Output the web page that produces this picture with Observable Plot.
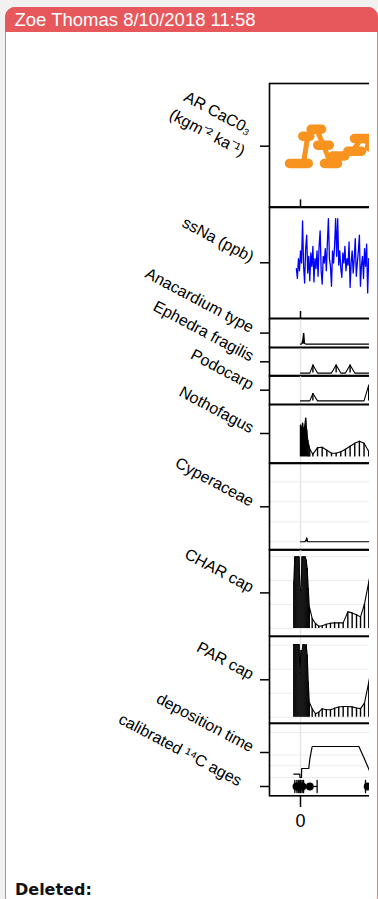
<!DOCTYPE html>
<html>
<head>
<meta charset="utf-8">
<script src="https://cdn.jsdelivr.net/npm/d3@7"></script>
<script src="https://cdn.jsdelivr.net/npm/@observablehq/plot@0.6"></script>
<style>
html,body{margin:0;padding:0;}
body{width:378px;height:899px;overflow:hidden;position:relative;background:#f1f1f1;font-family:"Liberation Sans",Arial,Helvetica,sans-serif;}
#box{position:absolute;left:5px;top:7px;width:373px;height:900px;box-sizing:border-box;background:#fff;border:1.5px solid #e77b7c;border-radius:10px;}
#hdr{position:absolute;left:5px;top:7px;width:373px;height:25px;background:#e6585b;border-radius:10px 10px 0 0;}
#hdrtext{position:absolute;left:14.5px;top:9px;color:#fff;font-size:18.5px;line-height:normal;white-space:nowrap;}
#chart{position:absolute;left:0;top:0;width:369px;height:845px;overflow:hidden;}
#del{position:absolute;left:15px;top:880px;font:bold 16px "DejaVu Sans",sans-serif;color:#111;white-space:nowrap;}
</style>
</head>
<body>
<div id="box"></div>
<div id="hdr"></div>
<div id="hdrtext">Zoe Thomas 8/10/2018 11:58</div>
<div id="chart"></div>
<div id="del">Deleted:</div>
<script>
// ---------- data ----------
// AR CaC03 (age, value, age-uncertainty)
const arAge    = [0.29, 0.7, 1.55, 2.23, 2.9, 3.68, 5.03, 5.9, 7.26];
const arValue  = [3.52, 5.73, 6.30, 5.0, 3.52, 4.13, 4.51, 5.54, 4.86];
const arAgeMin = [-1.06, 0.22, 1.04, 1.67, 2.32, 3.13, 4.58, 5.23, 6.68];
const arAgeMax = [0.75, 0.9, 2.03, 2.78, 3.58, 4.29, 5.9, 6.58, 8.2];

// ssNa (ppb)
const ssNaAge = [-0.4,-0.3,-0.2,-0.1,0,0.1,0.2,0.3,0.4,0.5,0.6,0.7,0.8,0.9,1,1.1,1.2,1.3,1.4,1.5,
  1.6,1.7,1.8,1.9,2,2.1,2.2,2.3,2.4,2.5,2.6,2.7,2.8,2.9,3,3.1,3.2,3.3,3.4,3.5,
  3.6,3.7,3.8,3.9,4,4.1,4.2,4.3,4.4,4.5,4.6,4.7,4.8,4.9,5,5.1,5.2,5.3,5.4,5.5,
  5.6,5.7,5.8,5.9,6,6.1,6.2,6.3,6.4,6.5,6.6,6.7,6.8,6.9,7];
const ssNaValue = [45,36,54,43,61,50,88,47,32,63,
  75,41,56,34,59,47,65,33,54,45,
  61,38,65,79,43,31,56,50,63,43,
  68,90,54,47,29,61,50,66,90,56,
  90,48,61,45,37,59,50,65,43,54,
  48,69,28,50,61,41,54,72,38,50,
  61,75,29,48,56,36,63,47,67,23,
  54,43,50,34,56];

// pollen
const pollenAge = [0,0.1,0.2,0.3,0.4,0.5,0.6,0.7,0.8,0.9,1.2,1.65,2.1,2.55,3.0,3.45,3.9,4.35,4.8,5.25,5.7,6.15,6.6,7.05];
const anacardium = [0,0,3,10.6,0.5,0,0,0,0,0,0,0,0,0,0,0,0,0,0,0,0,0,0,0];
const ephedra    = [0,0,0,0,0,0,0,0,0,0,8,0,0,0,0,8,0,0,8,0,0,0,0,0];
const podocarp   = [0,0,0,0,0,0,0,0,0,0,7.4,0,0,0,0,0,0,0,0,0,0,0,15.7,15];
const nothofagus = [31.7,26.7,33.7,24.7,30.7,38.7,26.7,16.7,11.7,7.7,2.7,9.2,9.7,6.7,3.7,3.7,5.2,7.7,10.7,13.7,15.7,13.7,5.7,3];
const cyperaceae = [0,0,0,0,0,0.8,3.7,0,0,0,0,0,0,0,0,0,0,0,0,0,0,0,0,0];

// charcoal
const charAge = [-0.65,-0.55,-0.45,-0.35,-0.25,-0.15,-0.05,0.05,0.15,0.25,0.35,0.45,0.55,0.65,0.75,0.85,
  1.13,1.45,1.77,2.1,2.5,2.9,3.3,3.7,4.13,4.58,5.0,5.42,5.81,6.19,6.61,7.0];
const charCap = [46.6,71.6,71.6,71.6,71.6,71.6,38.3,38.3,71.6,71.6,71.6,71.6,68.3,60,40,22,
  10,5,2.3,2.8,4.3,5.3,5.6,5.6,5.6,16.6,15.6,13.8,11.6,24.3,46.6,70];
const parCap = [72.7,72.7,72.7,72.7,72.7,72.7,45,66.7,66.7,72.7,72.7,70,72.7,62,35,15,
  8.4,3.4,5,8.5,7.5,7.5,9,10.2,10.7,10.7,10.3,9.2,8.6,14,35,60];

// deposition time and calibrated ages
const depAge  = [-0.65,-0.07,-0.05,0.1,0.11,0.8,0.9,1.13,5.65,6.13,6.61,7.0];
const depTime = [21.7,21.7,18.3,18.3,27.3,27.3,36.7,49.3,49.3,38.3,26.7,16];
const calAge    = [-0.39,-0.2,0,0.19,0.9,6.5];
const calAgeMin = [-0.55,-0.35,-0.15,0.02,0.26,6.29];
const calAgeMax = [-0.22,-0.05,0.15,0.3,1.61,7.5];

// labels & ticks
const panelLabels = ["AR CaC0\u2083\n(kgm\u207B\u00B2 ka\u207B\u00B9)", "ssNa (ppb)", "Anacardium type", "Ephedra fragilis",
  "Podocarp", "Nothofagus", "Cyperaceae", "CHAR cap", "PAR cap", "deposition time", "calibrated \u00B9\u2074C ages"];
const xTicks = [0];

// ---------- drawing ----------
const FONT = '"Liberation Sans", Arial, Helvetica, sans-serif';
const ORANGE = "#f7931e";
const rows = (xs, ys) => xs.map((x, i) => ({x, y: ys[i]}));

function label(text, yv, opts = {}) {
  return Plot.text([text], {
    y: () => yv, text: d => d, frameAnchor: "left",
    rotate: 28, textAnchor: "end", lineAnchor: "middle",
    fontSize: 16, fill: "black", dx: -17, dy: -4.5, ...opts
  });
}

function panel(cfg) {
  const mb = cfg.xAxis ? 45 : 0;
  const marks = [];
  if (cfg.grid) marks.push(Plot.ruleY(cfg.grid, {stroke: "#ebebeb", strokeWidth: 1}));
  if (cfg.zero) marks.push(Plot.ruleX([0], {stroke: "#e4e4e4", strokeWidth: 1.5}));
  marks.push(...cfg.marks);
  if (cfg.baseTick) marks.push(Plot.tickX([0], {x: d => d, insetTop: cfg.height - 7, stroke: "black", strokeWidth: 1.5}));
  marks.push(Plot.frame({stroke: "black", strokeWidth: 1.6}));
  marks.push(Plot.axisY({ticks: cfg.ticks, tickSize: 9, tickFormat: () => "", strokeWidth: 1.5, label: null}));
  marks.push(...cfg.labels);
  if (cfg.xAxis) marks.push(Plot.axisX({ticks: xTicks, tickSize: 11.7, tickPadding: 7, fontSize: 18, strokeWidth: 1.5, tickFormat: d => String(d), label: null}));
  const svg = Plot.plot({
    width: 600, height: cfg.height + mb,
    marginLeft: 269, marginRight: 21, marginTop: 0, marginBottom: mb,
    x: cfg.xAxis ? {domain: [-3, 27], label: null} : {domain: [-3, 27], label: null, axis: null},
    y: {domain: cfg.yDomain, label: null},
    marks
  });
  svg.style.setProperty("overflow", "visible");
  svg.style.setProperty("background", "transparent");
  svg.style.setProperty("max-width", "none");
  svg.style.setProperty("position", "absolute");
  svg.style.setProperty("left", "0px");
  svg.style.setProperty("top", cfg.top + "px");
  svg.style.setProperty("font-family", FONT);
  document.getElementById("chart").append(svg);
}

function stemMarks(ages, values) {
  const t = rows(ages, values);
  return [
    Plot.ruleX(t, {x: "x", y1: 0, y2: "y", stroke: "black", strokeWidth: 1.4}),
    Plot.line(t, {x: "x", y: "y", stroke: "black", strokeWidth: 1.1})
  ];
}

// AR
const arTable = arAge.map((a, i) => ({age: a, v: arValue[i], lo: arAgeMin[i], hi: arAgeMax[i]}));
panel({top: 83.3, height: 123.4, yDomain: [0, 10], ticks: [4.92], baseTick: true,
  labels: [label(panelLabels[0], 4.92, {textAnchor: "middle", lineHeight: 1.4, dx: -56, dy: -25})],
  marks: [
    Plot.line(arTable, {x: "age", y: "v", stroke: ORANGE, strokeWidth: 5}),
    Plot.link(arTable, {x1: "lo", x2: "hi", y1: "v", y2: "v", stroke: ORANGE, strokeWidth: 9.5, strokeLinecap: "round"})
  ]});

// ssNa
panel({top: 206.7, height: 111, yDomain: [0, 100], ticks: [50.2], baseTick: true,
  labels: [label(panelLabels[1], 50.2)],
  marks: [Plot.line(rows(ssNaAge, ssNaValue), {x: "x", y: "y", stroke: "#0000ff", strokeWidth: 1.3})]});

panel({top: 317.7, height: 29, yDomain: [-3.4, 25.6], ticks: [11], zero: true,
  labels: [label(panelLabels[2], 11)], marks: stemMarks(pollenAge, anacardium)});
panel({top: 346.7, height: 28.6, yDomain: [-3, 25.6], ticks: [11.3], zero: true,
  labels: [label(panelLabels[3], 11.3)], marks: stemMarks(pollenAge, ephedra)});
panel({top: 375.3, height: 29, yDomain: [-3.6, 25.4], ticks: [10.7], zero: true,
  labels: [label(panelLabels[4], 10.7)], marks: stemMarks(pollenAge, podocarp)});
panel({top: 404.3, height: 58.4, yDomain: [-6, 52.4], ticks: [23.4], zero: true,
  labels: [label(panelLabels[5], 23.4)], marks: stemMarks(pollenAge, nothofagus)});
panel({top: 462.7, height: 86.6, yDomain: [-8.3, 78.3], ticks: [35], zero: true, grid: [0, 20, 40, 60],
  labels: [label(panelLabels[6], 35)], marks: stemMarks(pollenAge, cyperaceae)});
panel({top: 549.3, height: 86.7, yDomain: [-7.7, 79], ticks: [35.6], zero: true, grid: [0, 24, 48, 72],
  labels: [label(panelLabels[7], 35.6)], marks: stemMarks(charAge, charCap)});
panel({top: 636, height: 86.7, yDomain: [-6, 80.7], ticks: [37.4], zero: true, grid: [0, 24, 48, 72],
  labels: [label(panelLabels[8], 37.4)], marks: stemMarks(charAge, parCap)});

// deposition time + calibrated ages
const calRow = 9.3, depRow = 43.3;
const calTable = calAge.map((a, i) => ({age: a, lo: calAgeMin[i], hi: calAgeMax[i], v: calRow}));
const capShape = {draw(context, l) { context.moveTo(0, 0); context.lineTo(0, -l); }};
panel({top: 722.7, height: 72.3, yDomain: [0, 72.3], ticks: [depRow, calRow], zero: true, grid: [18.3, 30, 40.7, 63.3], xAxis: true,
  labels: [label(panelLabels[9], depRow), label(panelLabels[10], calRow, {dx: -29})],
  marks: [
    Plot.line(rows(depAge, depTime), {x: "x", y: "y", stroke: "black", strokeWidth: 1.2}),
    Plot.link(calTable, {x1: "lo", x2: "hi", y1: "v", y2: "v", stroke: "black", strokeWidth: 1.3}),
    Plot.vector(calTable, {x: "lo", y: "v", length: 12, anchor: "middle", shape: capShape, stroke: "black", strokeWidth: 1.3}),
    Plot.vector(calTable, {x: "hi", y: "v", length: 12, anchor: "middle", shape: capShape, stroke: "black", strokeWidth: 1.3}),
    Plot.dot(calTable, {x: "age", y: "v", r: 3.9, fill: "black"})
  ]});
</script>
</body>
</html>
